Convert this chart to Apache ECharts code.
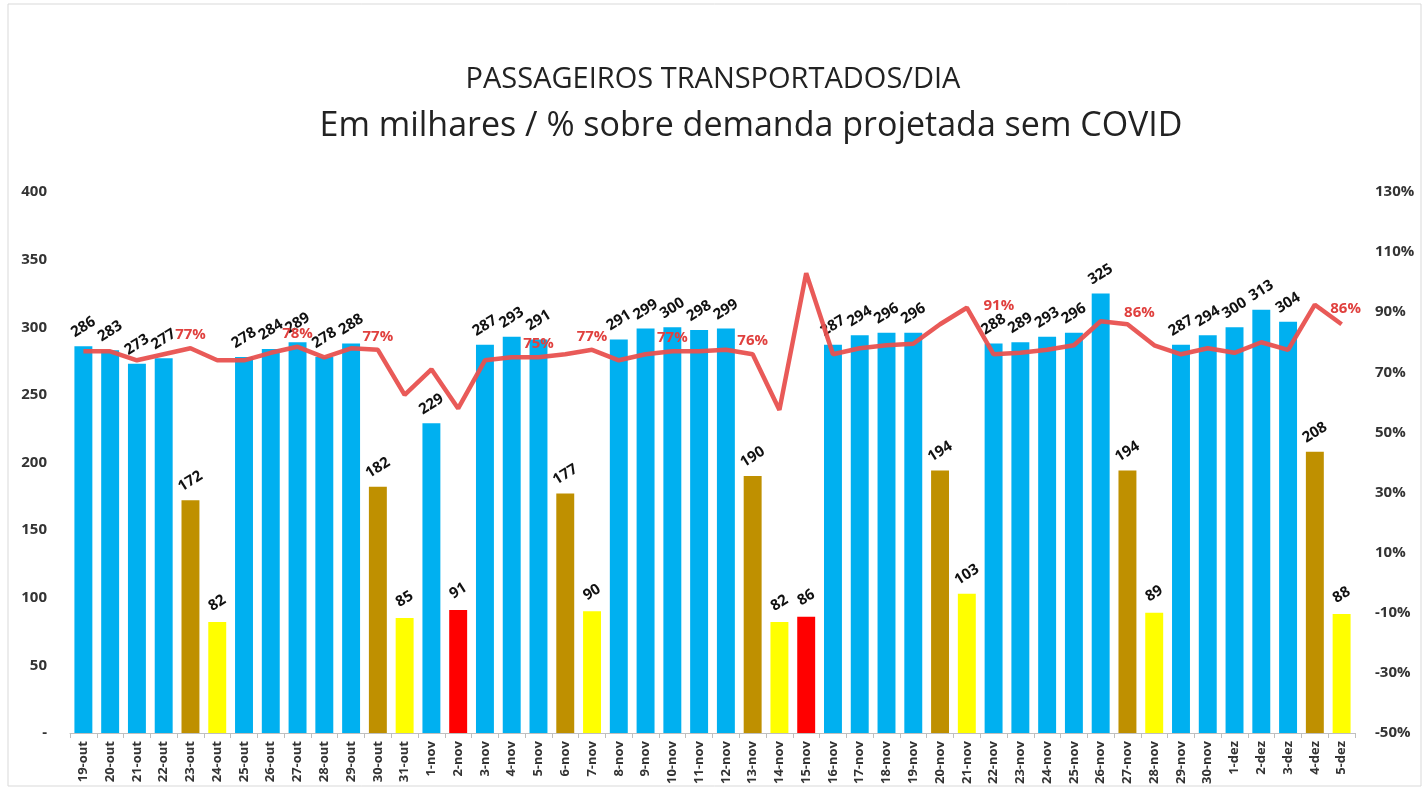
<!DOCTYPE html>
<html lang="pt">
<head>
<meta charset="utf-8">
<title>Passageiros transportados/dia</title>
<script src="https://cdn.jsdelivr.net/npm/echarts@6/dist/echarts.min.js"></script>
<style>
  html, body { margin: 0; padding: 0; background: #fff; }
  #chart { width: 1426px; height: 790px; }
</style>
</head>
<body>
<div id="chart"></div>
<script>
// dias
var days = ['19-out','20-out','21-out','22-out','23-out','24-out','25-out','26-out','27-out','28-out',
  '29-out','30-out','31-out','1-nov','2-nov','3-nov','4-nov','5-nov','6-nov','7-nov',
  '8-nov','9-nov','10-nov','11-nov','12-nov','13-nov','14-nov','15-nov','16-nov','17-nov',
  '18-nov','19-nov','20-nov','21-nov','22-nov','23-nov','24-nov','25-nov','26-nov','27-nov',
  '28-nov','29-nov','30-nov','1-dez','2-dez','3-dez','4-dez','5-dez'];

// passageiros (milhares)
var passengers = [286,283,273,277,172,82,278,284,289,278,
  288,182,85,229,91,287,293,291,177,90,
  291,299,300,298,299,190,82,86,287,294,
  296,296,194,103,288,289,293,296,325,194,
  89,287,294,300,313,304,208,88];

// tipo de dia: u = útil, s = sábado, d = domingo, f = feriado
var dayType = ['u','u','u','u','s','d','u','u','u','u',
  'u','s','d','u','f','u','u','u','s','d',
  'u','u','u','u','u','s','d','f','u','u',
  'u','u','s','d','u','u','u','u','u','s',
  'd','u','u','u','u','u','s','d'];

// % sobre demanda projetada sem COVID
var pct = [77,77,74,76,78,74,74,76.5,78.5,75,
  78,77.5,62.5,71,58,74,75,75,76,77.5,
  74,76,77,77,77.5,76,57.5,103,76,78,
  79,79.5,86,91.5,76,76.5,77.5,79,87,86,
  79,76,78,76.5,80,77.5,92.5,86];

// índices onde o rótulo de % aparece
var pctLabelIdx = [4,8,11,17,19,22,25,33,39,47];
var pctLabelText = ['77%','78%','77%','75%','77%','77%','76%','91%','86%','86%'];

var typeColor = { u: '#00B0F0', s: '#BF9000', d: '#FFFF00', f: '#FF0000' };
var PCT_OFFSET = 50;
// rótulos deslocados para a direita no original
var labelShift = { 33: [32, 12], 39: [12, 2], 47: [4, -2] };

var chart = echarts.init(document.getElementById('chart'));

var barData = passengers.map(function (v, i) {
  return { value: v, itemStyle: { color: typeColor[dayType[i]] } };
});

var lineData = pct.map(function (v, i) {
  var k = pctLabelIdx.indexOf(i);
  var item = { value: v + PCT_OFFSET };
  if (k >= 0) {
    item.label = { show: true, formatter: pctLabelText[k], offset: labelShift[i] || [0, 0] };
  }
  return item;
});

var option = {
  animation: false,
  textStyle: { fontFamily: 'Open Sans' },
  title: {
    text: '{a|PASSAGEIROS TRANSPORTADOS/DIA}\n{b|Em milhares / % sobre demanda projetada sem COVID}',
    left: 'center',
    top: 51,
    textStyle: {
      fontWeight: 'normal',
      rich: {
        a: { fontSize: 29, fontWeight: 'normal', color: '#222', lineHeight: 47, fontFamily: 'Open Sans' },
        b: { fontSize: 34, fontWeight: 'normal', color: '#222', lineHeight: 47, fontFamily: 'Open Sans', padding: [0, 0, 0, 76] }
      }
    }
  },
  graphic: [{
    type: 'rect',
    shape: { x: 8, y: 4, width: 1413, height: 782 },
    style: { fill: 'none', stroke: '#d9d9d9', lineWidth: 1 },
    silent: true
  }],
  grid: { left: 70, right: 71, top: 192, bottom: 57 },
  xAxis: {
    type: 'category',
    data: days,
    axisLine: { lineStyle: { color: '#bfbfbf' } },
    axisTick: { show: true, alignWithLabel: false, lineStyle: { color: '#bfbfbf' }, length: 5 },
    axisLabel: { rotate: 90, interval: 0, fontSize: 13, fontWeight: 'bold', color: '#333', margin: 8 }
  },
  yAxis: [{
    type: 'value',
    min: 0, max: 400, interval: 50,
    splitLine: { show: false },
    axisLine: { show: false },
    axisTick: { show: false },
    axisLabel: {
      fontSize: 15, fontWeight: 'bold', color: '#333', margin: 23,
      formatter: function (v) { return v === 0 ? '-' : v; }
    }
  }, {
    type: 'value',
    min: 0, max: 180, interval: 20,
    splitLine: { show: false },
    axisLine: { show: false },
    axisTick: { show: false },
    axisLabel: {
      fontSize: 15, fontWeight: 'bold', color: '#333', margin: 20,
      formatter: function (v) { return (v - PCT_OFFSET) + '%'; }
    }
  }],
  series: [{
    type: 'bar',
    data: barData,
    barCategoryGap: '33%',
    label: {
      show: true,
      position: 'top',
      distance: 19,
      rotate: 32,
      align: 'center',
      verticalAlign: 'middle',
      fontSize: 15,
      fontWeight: 'bold',
      color: '#111'
    }
  }, {
    type: 'line',
    yAxisIndex: 1,
    data: lineData,
    symbol: 'circle',
    symbolSize: 0,
    showSymbol: true,
    z: 3,
    itemStyle: { color: '#E8514F' },
    lineStyle: { color: '#E8514F', width: 4.5, opacity: 0.95 },
    label: {
      show: false,
      position: 'top',
      distance: 6,
      fontSize: 15,
      fontWeight: 'bold',
      color: '#E0403E'
    }
  }]
};

chart.setOption(option);
window.onresize = function () { chart.resize(); };
</script>
</body>
</html>
